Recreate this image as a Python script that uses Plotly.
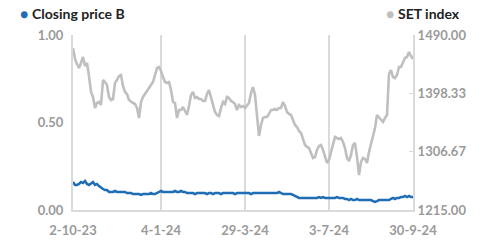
import plotly.graph_objects as go

# Closing price B (left axis), sampled across the period
closing_price_b = [
    0.160, 0.143, 0.143, 0.149, 0.160, 0.154, 0.166, 0.149, 0.143, 0.154,
    0.160, 0.143, 0.149, 0.137, 0.126, 0.120, 0.114, 0.114, 0.103, 0.103,
    0.103, 0.109, 0.103, 0.103, 0.103, 0.103, 0.103, 0.097, 0.097, 0.097,
    0.091, 0.091, 0.091, 0.091, 0.086, 0.091, 0.091, 0.091, 0.091, 0.097,
    0.091, 0.091, 0.097, 0.103, 0.109, 0.103, 0.103, 0.103, 0.103, 0.103,
    0.103, 0.109, 0.103, 0.103, 0.109, 0.103, 0.103, 0.097, 0.097, 0.097,
    0.097, 0.091, 0.097, 0.097, 0.097, 0.097, 0.097, 0.091, 0.097, 0.097,
    0.091, 0.097, 0.097, 0.097, 0.091, 0.097, 0.097, 0.097, 0.097, 0.097,
    0.097, 0.091, 0.097, 0.097, 0.097, 0.097, 0.097, 0.097, 0.097, 0.091,
    0.097, 0.097, 0.097, 0.097, 0.097, 0.097, 0.097, 0.097, 0.097, 0.097,
    0.097, 0.097, 0.097, 0.103, 0.097, 0.091, 0.091, 0.091, 0.091, 0.091,
    0.086, 0.080, 0.074, 0.069, 0.069, 0.069, 0.069, 0.069, 0.069, 0.069,
    0.069, 0.069, 0.069, 0.074, 0.069, 0.074, 0.069, 0.069, 0.069, 0.069,
    0.069, 0.069, 0.074, 0.069, 0.069, 0.069, 0.063, 0.063, 0.057, 0.063,
    0.057, 0.057, 0.063, 0.057, 0.057, 0.057, 0.057, 0.057, 0.057, 0.057,
    0.051, 0.046, 0.051, 0.057, 0.057, 0.057, 0.057, 0.057, 0.057, 0.063,
    0.069, 0.063, 0.069, 0.069, 0.074, 0.074, 0.080, 0.074, 0.080, 0.074,
    0.074,
]

# SET index (right axis)
set_index = [
    1469.6, 1452.3, 1444.4, 1438.1, 1446.0, 1455.4, 1441.3, 1446.0, 1425.6, 1400.4,
    1392.6, 1375.3, 1383.1, 1384.7, 1380.0, 1419.3, 1416.1, 1411.4, 1392.6, 1387.9,
    1389.4, 1414.6, 1419.3, 1425.6, 1427.1, 1409.9, 1400.4, 1397.3, 1387.9, 1384.7,
    1383.1, 1381.6, 1375.3, 1359.6, 1384.7, 1392.6, 1397.3, 1400.4, 1406.7, 1411.4,
    1416.1, 1427.1, 1438.1, 1439.7, 1433.4, 1424.0, 1416.1, 1414.6, 1416.1, 1403.6,
    1384.7, 1383.1, 1359.6, 1372.1, 1372.1, 1376.9, 1370.6, 1364.3, 1378.4, 1395.7,
    1400.4, 1391.0, 1392.6, 1389.4, 1389.4, 1386.3, 1386.3, 1397.3, 1403.6, 1391.0,
    1383.1, 1369.0, 1364.3, 1362.7, 1375.3, 1384.7, 1381.6, 1392.6, 1391.0, 1386.3,
    1384.7, 1381.6, 1372.1, 1380.0, 1376.9, 1378.4, 1375.3, 1380.0, 1383.1, 1398.9,
    1408.3, 1395.7, 1364.3, 1331.3, 1348.6, 1359.6, 1361.1, 1361.1, 1365.9, 1372.1,
    1372.1, 1373.7, 1372.1, 1375.3, 1375.3, 1384.7, 1378.4, 1369.0, 1365.9, 1364.3,
    1356.4, 1348.6, 1345.4, 1339.1, 1336.0, 1326.6, 1317.1, 1314.0, 1312.4, 1304.6,
    1296.7, 1298.3, 1309.3, 1315.6, 1317.1, 1309.3, 1296.7, 1288.9, 1293.6, 1306.1,
    1320.3, 1329.7, 1328.1, 1326.6, 1328.1, 1321.9, 1312.4, 1296.7, 1292.0, 1301.4,
    1317.1, 1320.3, 1298.3, 1270.0, 1290.4, 1296.7, 1295.1, 1288.9, 1306.1, 1320.3,
    1331.3, 1343.9, 1364.3, 1361.1, 1358.0, 1353.3, 1359.6, 1364.3, 1428.7, 1435.0,
    1424.0, 1422.4, 1427.1, 1439.7, 1439.7, 1447.6, 1453.9, 1455.4, 1463.3, 1457.0,
    1452.3,
]

tick_labels = ["2-10-23", "4-1-24", "29-3-24", "3-7-24", "30-9-24"]
tick_index = [0, 44, 86, 128, 170]

left_ticks = [0.0, 0.5, 1.0]
right_ticks = [1215.00, 1306.67, 1398.33, 1490.00]

n = len(set_index)
x = list(range(n))

BLUE = "#1f6db5"
GRAY_LINE = "#bfbfbf"
AXIS = "#dadada"
TICK_TXT = "#9a9a9a"
FONT = "Lato"

fig = go.Figure()
fig.add_trace(go.Scatter(
    x=x, y=set_index, yaxis="y2", mode="lines",
    line=dict(color=GRAY_LINE, width=2.6), name="SET index",
))
fig.add_trace(go.Scatter(
    x=x[:len(closing_price_b)], y=closing_price_b, yaxis="y", mode="lines",
    line=dict(color=BLUE, width=2.5), name="Closing price B",
))

tf = dict(family=FONT, size=13, color=TICK_TXT, weight="bold")

fig.update_layout(
    width=482, height=240,
    margin=dict(l=73, r=69, t=35, b=30, autoexpand=False),
    paper_bgcolor="white", plot_bgcolor="white",
    showlegend=False, hovermode=False,
    font=dict(family=FONT, size=13, color=TICK_TXT),
    xaxis=dict(
        range=[0, n - 1], automargin=False,
        tickvals=tick_index, ticktext=tick_labels,
        showgrid=True, gridcolor=AXIS, gridwidth=1.5,
        showline=True, linecolor=AXIS, linewidth=2,
        zeroline=False, ticks="", ticklabelstandoff=7,
        tickfont=tf,
    ),
    yaxis=dict(
        range=[0, 1], automargin=False,
        tickvals=left_ticks, ticktext=[f"{v:.2f}" for v in left_ticks],
        showgrid=False, zeroline=False,
        showline=True, linecolor=AXIS, linewidth=2,
        ticks="", ticklabelstandoff=5,
        tickfont=tf,
    ),
    yaxis2=dict(
        range=[1215, 1490], overlaying="y", side="right", automargin=False,
        tickvals=right_ticks, ticktext=[f"{v:.2f}" for v in right_ticks],
        showgrid=False, zeroline=False,
        showline=True, linecolor=AXIS, linewidth=2,
        ticks="inside", ticklen=4, tickcolor=AXIS, tickwidth=1.5,
        ticklabelstandoff=0,
        tickfont=tf,
    ),
    annotations=[
        dict(xref="paper", yref="paper", x=-0.163, y=1.12, xanchor="left", yanchor="middle",
             showarrow=False,
             text=f"<span style='color:{BLUE}'>●</span> <b>Closing price B</b>",
             font=dict(family=FONT, size=14, color="#222222")),
        dict(xref="paper", yref="paper", x=1.143, y=1.12, xanchor="right", yanchor="middle",
             showarrow=False,
             text=f"<span style='color:{GRAY_LINE}'>●</span> <b>SET index</b>",
             font=dict(family=FONT, size=14, color="#222222")),
    ],
)

fig.write_html("out.html", config={"displayModeBar": False, "staticPlot": True},
               post_script="document.body.style.margin='0';")
